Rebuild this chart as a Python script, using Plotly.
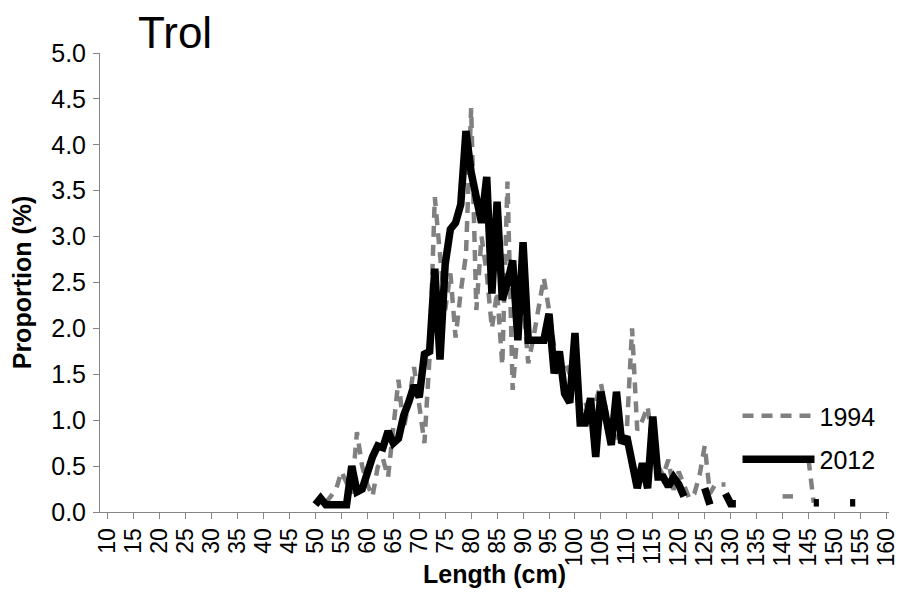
import plotly.graph_objects as go

# Length categories (cm) for which data exist, starting at 50 cm
lengths = list(range(50, 161))

# 1994 proportions (%) by cm, None = no data
p1994 = [
    None, None, 0.10, 0.17, 0.25, 0.44, 0.31, 0.20, 0.87, 0.50,   # 50-59
    0.30, 0.17, 0.49, 0.58, 0.38, 0.86, 1.44, 0.90, 1.20, 1.58,   # 60-69
    1.20, 0.75, 1.70, 3.43, 2.80, 2.20, 2.60, 1.90, 2.40, 2.80,   # 70-79
    4.40, 2.20, 3.00, 2.60, 2.00, 2.40, 1.60, 3.60, 1.33, 2.00,   # 80-89
    2.30, 1.62, 1.90, 2.20, 2.55, 2.20, 1.80, 1.65, 1.66, 1.50,   # 90-99
    1.70, 1.10, 1.20, 1.00, 1.20, 1.40, 1.10, 0.90, 0.80, 0.90,   # 100-109
    0.90, 2.00, 0.89, 1.00, 1.15, 0.70, 0.50, 0.40, 0.57, 0.24,   # 110-119
    0.44, 0.30, 0.15, 0.20, 0.40, 0.72, 0.20, 0.30, 0.30, 0.30,   # 120-129
    None, None, None, None, None, None, None, None, None, None,   # 130-139
    0.17, 0.17, 0.17, None, None, 0.57, 0.10, None, None, None,   # 140-149
    None, None, None, None, None, None, None, None, None, None,   # 150-159
    None,                                                         # 160
]

# 2012 proportions (%) by cm
p2012 = [
    0.08, 0.15, 0.08, 0.08, 0.08, 0.08, 0.08, 0.50, 0.22, 0.25,   # 50-59
    0.45, 0.60, 0.72, 0.70, 0.88, 0.75, 0.80, 1.05, 1.20, 1.38,   # 60-69
    1.25, 1.72, 1.75, 2.65, 1.66, 2.70, 3.08, 3.15, 3.35, 4.15,   # 70-79
    3.70, 3.45, 3.15, 3.65, 2.38, 3.38, 2.31, 2.50, 2.74, 1.87,   # 80-89
    2.94, 1.87, 1.87, 1.87, 1.87, 2.16, 1.51, 1.75, 1.29, 1.19,   # 90-99
    1.95, 0.97, 0.97, 1.24, 0.60, 1.31, 1.00, 0.73, 1.31, 0.75,   # 100-109
    0.82, 0.55, 0.26, 0.53, 0.26, 1.04, 0.38, 0.38, 0.28, 0.38,   # 110-119
    0.30, 0.17, None, None, None, 0.26, 0.08, None, None, 0.20,   # 120-129
    0.09, 0.09, None, None, None, None, None, None, None, None,   # 130-139
    None, None, None, None, None, None, 0.10, 0.10, None, None,   # 140-149
    None, None, None, 0.10, 0.10, None, None, None, None, None,   # 150-159
    None,                                                         # 160
]

tick_vals = list(range(10, 161, 5))
tick_text = [str(v) for v in tick_vals]

FONT = "Arial, Liberation Sans, sans-serif"
AXIS_GREY = "#868686"

fig = go.Figure()
fig.add_trace(go.Scatter(
    x=lengths, y=p1994, name="1994", mode="lines", legendgroup="a",
    line=dict(color="#808080", width=4.5, dash="11px,8px"),
    connectgaps=False,
))
fig.add_trace(go.Scatter(
    x=lengths, y=p2012, name="2012", mode="lines", legendgroup="b",
    line=dict(color="#000000", width=7.5),
    connectgaps=False,
))

fig.update_layout(
    width=893, height=580,
    paper_bgcolor="white", plot_bgcolor="white",
    margin=dict(l=92, r=12, t=45, b=76, autoexpand=False),
    font=dict(family=FONT, color="#000000", size=25),
    title=dict(text="Trol", x=130 / 893, xanchor="left", y=1 - 25 / 580, yanchor="middle",
               font=dict(family=FONT, size=44, color="#000000")),
    showlegend=True,
    legend=dict(x=0.808, xanchor="left", y=0.259, yanchor="top",
                bgcolor="rgba(0,0,0,0)", font=dict(family=FONT, size=25),
                itemwidth=72, tracegroupgap=8),
    xaxis=dict(
        range=[8.5, 160.5], tickmode="array", tickvals=tick_vals, ticktext=tick_text,
        tickangle=-90, ticks="outside", ticklen=6, tickcolor=AXIS_GREY, tickwidth=1,
        showline=True, linecolor=AXIS_GREY, linewidth=1, showgrid=False, zeroline=False,
        tickfont=dict(family=FONT, size=23), ticklabeloverflow="allow",
        title=dict(text="<b>Length (cm)</b>", font=dict(family=FONT, size=25), standoff=4),
    ),
    yaxis=dict(
        range=[0, 5], dtick=0.5, tickformat=".1f", ticks="outside", ticklen=6,
        tickcolor=AXIS_GREY, tickwidth=1, showline=True, linecolor=AXIS_GREY, linewidth=1,
        showgrid=False, zeroline=False, tickfont=dict(family=FONT, size=25),
        ticklabelstandoff=2,
        title=dict(text="<b>Proportion (%)</b>", font=dict(family=FONT, size=25), standoff=12),
    ),
)

fig.write_html("out.html")
